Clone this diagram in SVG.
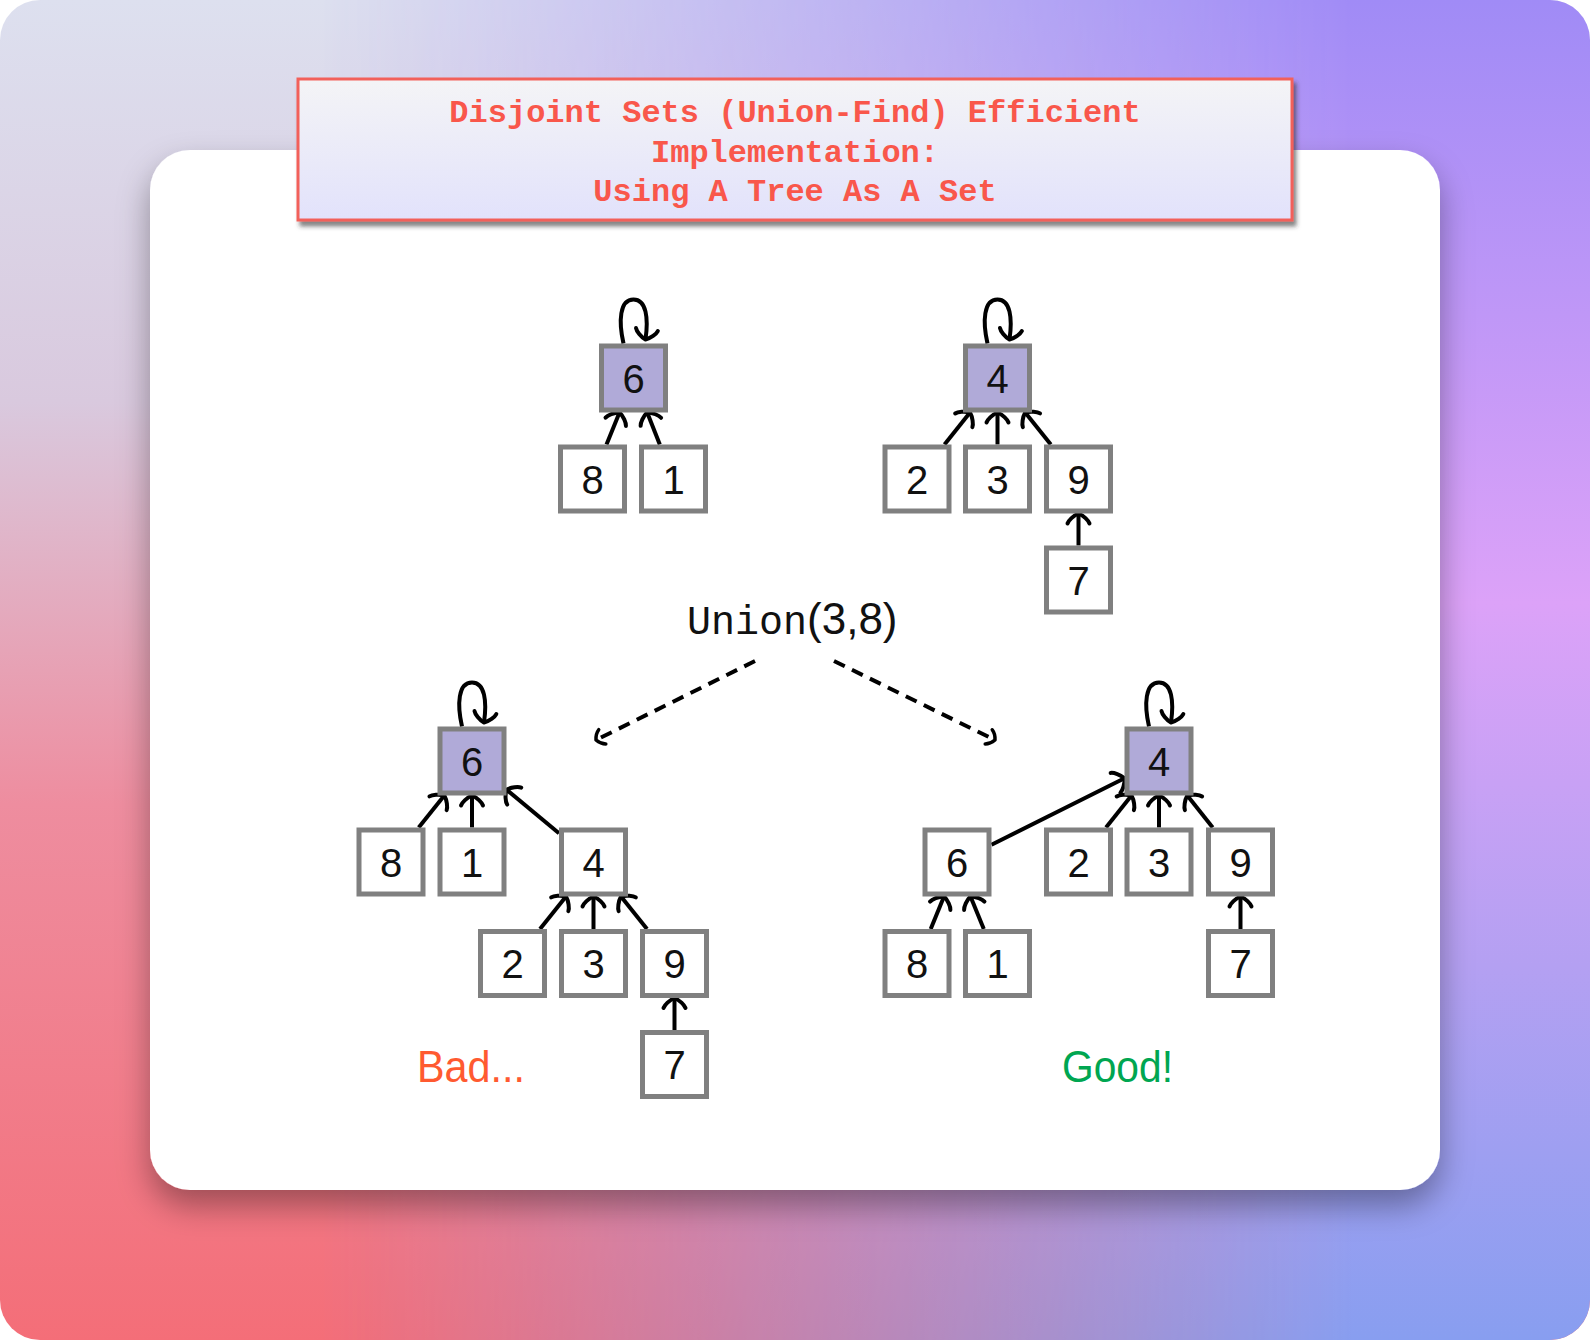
<svg xmlns="http://www.w3.org/2000/svg" width="1590" height="1340" viewBox="0 0 1590 1340">
<defs>
  <linearGradient id="bgV" x1="0" y1="0" x2="0" y2="1">
    <stop offset="0" stop-color="#dde0ef"/>
    <stop offset="0.3" stop-color="#d9c9de"/>
    <stop offset="0.6" stop-color="#ee8d9f"/>
    <stop offset="1" stop-color="#f46e78"/>
  </linearGradient>
  <linearGradient id="bgR" x1="0" y1="0" x2="0" y2="1">
    <stop offset="0" stop-color="#a08bf6"/>
    <stop offset="0.45" stop-color="#dca2f8"/>
    <stop offset="0.72" stop-color="#b4a0f2"/>
    <stop offset="1" stop-color="#889ef0"/>
  </linearGradient>
  <linearGradient id="mh" x1="0" y1="0" x2="1" y2="0">
    <stop offset="0.2" stop-color="#fff" stop-opacity="0"/>
    <stop offset="0.85" stop-color="#fff" stop-opacity="1"/>
  </linearGradient>
  <mask id="rmask" maskUnits="userSpaceOnUse" x="0" y="0" width="1590" height="1340">
    <rect width="1590" height="1340" fill="url(#mh)"/>
  </mask>
  <linearGradient id="titleFill" x1="0" y1="0" x2="0" y2="1">
    <stop offset="0" stop-color="#f4f4f6"/>
    <stop offset="1" stop-color="#e2e2fb"/>
  </linearGradient>
  <filter id="cardShadow" x="-10%" y="-10%" width="120%" height="125%">
    <feDropShadow dx="0" dy="16" stdDeviation="16" flood-color="#000" flood-opacity="0.35"/>
  </filter>
  <filter id="titleShadow" x="-5%" y="-10%" width="110%" height="130%">
    <feDropShadow dx="3" dy="5" stdDeviation="2" flood-color="#333" flood-opacity="0.6"/>
  </filter>
  <marker id="to" viewBox="-15 -15 30 30" refX="0" refY="0" markerWidth="30" markerHeight="30" markerUnits="userSpaceOnUse" orient="auto" overflow="visible">
    <path d="M-10,-11 C-7,-10 -2,-5 0,0 C-2,5 -7,10 -10,11" fill="none" stroke="#000" stroke-width="4" stroke-linecap="round" stroke-linejoin="round"/>
  </marker>
  <marker id="tos" viewBox="-15 -15 30 30" refX="0" refY="0" markerWidth="30" markerHeight="30" markerUnits="userSpaceOnUse" orient="auto" overflow="visible">
    <path d="M-7,-8 C-5,-7 -1.5,-3.5 0,0 C-1.5,3.5 -5,7 -7,8" fill="none" stroke="#000" stroke-width="3.5" stroke-linecap="round" stroke-linejoin="round"/>
  </marker>
  <style>
    .nd rect { fill: #ffffff; stroke: #808080; stroke-width: 5; }
    .nd.root rect { fill: #b0aad8; }
    .nd text { font-family: "Liberation Sans", "DejaVu Sans", sans-serif; font-size: 40px; fill: #111; text-anchor: middle; }
    .ed { stroke: #000; stroke-width: 4; fill: none; marker-end: url(#to); }
    .lp { stroke: #000; stroke-width: 4; fill: none; marker-end: url(#to); }
    .ds { stroke: #000; stroke-width: 4; fill: none; stroke-dasharray: 12 8; marker-end: url(#tos); }
    .title { font-family: "Liberation Mono", "DejaVu Sans Mono", monospace; font-weight: bold; font-size: 32px; fill: #f9574b; text-anchor: middle; }
  </style>
</defs>

<!-- background -->
<rect x="0" y="0" width="1590" height="1340" rx="40" fill="url(#bgV)"/>
<rect x="0" y="0" width="1590" height="1340" rx="40" fill="url(#bgR)" mask="url(#rmask)"/>

<!-- card -->
<rect x="150" y="150" width="1290" height="1040" rx="40" fill="#ffffff" filter="url(#cardShadow)"/>

<!-- title -->
<g id="title">
  <rect x="298" y="79" width="994" height="141" fill="url(#titleFill)" stroke="#f2605a" stroke-width="3" filter="url(#titleShadow)"/>
  <text class="title" x="795" y="122">Disjoint Sets (Union-Find) Efficient</text>
  <text class="title" x="795" y="162">Implementation:</text>
  <text class="title" x="795" y="201">Using A Tree As A Set</text>
</g>

<!-- connectors -->
<g id="connectors">
  <!-- top-left tree -->
  <line class="ed" x1="606.5" y1="444.5" x2="619.5" y2="412.5"/>
  <line class="ed" x1="659.8" y1="444.5" x2="647.2" y2="412.5"/>
  <path class="lp" d="M623.5,343.5 C618.5,321.5 619.5,299.5 633.5,299.5 C646.5,299.5 648.5,318.5 645.5,339.5"/>
  <!-- top-right tree -->
  <line class="ed" x1="944.5" y1="444.5" x2="970" y2="412.5"/>
  <line class="ed" x1="997.5" y1="444.5" x2="997.5" y2="412.5"/>
  <line class="ed" x1="1050.8" y1="444.5" x2="1025.2" y2="412.5"/>
  <line class="ed" x1="1078.5" y1="545.5" x2="1078.5" y2="513.5"/>
  <path class="lp" d="M987.5,343.5 C982.5,321.5 983.5,299.5 997.5,299.5 C1010.5,299.5 1012.5,318.5 1009.5,339.5"/>
  <!-- union dashed -->
  <line class="ds" x1="755" y1="661" x2="596" y2="740"/>
  <line class="ds" x1="834" y1="661" x2="995" y2="740"/>
  <!-- bottom-left tree -->
  <line class="ed" x1="418.7" y1="827.5" x2="444.3" y2="795.5"/>
  <line class="ed" x1="472" y1="827.5" x2="472" y2="795.5"/>
  <line class="ed" x1="559" y1="833.3" x2="506.5" y2="789.7"/>
  <line class="ed" x1="540" y1="929" x2="566" y2="896.5"/>
  <line class="ed" x1="593.5" y1="929" x2="593.5" y2="896.5"/>
  <line class="ed" x1="647" y1="929" x2="621" y2="896.5"/>
  <line class="ed" x1="674.5" y1="1030" x2="674.5" y2="998"/>
  <path class="lp" d="M462,726.5 C457,704.5 458,682.5 472,682.5 C485,682.5 487,701.5 484,722.5"/>
  <!-- bottom-right tree -->
  <line class="ed" x1="991.5" y1="844.8" x2="1124.5" y2="778.3"/>
  <line class="ed" x1="1106" y1="827.5" x2="1131.5" y2="795.5"/>
  <line class="ed" x1="1159" y1="827.5" x2="1159" y2="795.5"/>
  <line class="ed" x1="1212.7" y1="827.5" x2="1187.3" y2="795.5"/>
  <line class="ed" x1="930.7" y1="929" x2="944" y2="896.5"/>
  <line class="ed" x1="983.8" y1="929" x2="970.5" y2="896.5"/>
  <line class="ed" x1="1240.5" y1="929" x2="1240.5" y2="896.5"/>
  <path class="lp" d="M1149,726.5 C1144,704.5 1145,682.5 1159,682.5 C1172,682.5 1174,701.5 1171,722.5"/>
</g>

<!-- top-left tree nodes -->
<g id="tl-6" class="nd root"><rect x="601.5" y="346" width="64" height="64"/><text x="633.5" y="392.5">6</text></g>
<g id="tl-8" class="nd"><rect x="560.5" y="447" width="64" height="64"/><text x="592.5" y="493.5">8</text></g>
<g id="tl-1" class="nd"><rect x="641.5" y="447" width="64" height="64"/><text x="673.5" y="493.5">1</text></g>

<!-- top-right tree nodes -->
<g id="tr-4" class="nd root"><rect x="965.5" y="346" width="64" height="64"/><text x="997.5" y="392.5">4</text></g>
<g id="tr-2" class="nd"><rect x="885" y="447" width="64" height="64"/><text x="917" y="493.5">2</text></g>
<g id="tr-3" class="nd"><rect x="965.5" y="447" width="64" height="64"/><text x="997.5" y="493.5">3</text></g>
<g id="tr-9" class="nd"><rect x="1046.5" y="447" width="64" height="64"/><text x="1078.5" y="493.5">9</text></g>
<g id="tr-7" class="nd"><rect x="1046.5" y="548" width="64" height="64"/><text x="1078.5" y="594.5">7</text></g>

<!-- union label -->
<g id="union-label">
  <text x="687" y="634" font-size="40" fill="#111"><tspan font-family="'Liberation Mono', 'DejaVu Sans Mono', monospace">Union</tspan><tspan font-family="'Liberation Sans', 'DejaVu Sans', sans-serif" font-size="44">(3,8)</tspan></text>
</g>

<!-- bottom-left tree nodes -->
<g id="bl-6" class="nd root"><rect x="440" y="729" width="64" height="64"/><text x="472" y="775.5">6</text></g>
<g id="bl-8" class="nd"><rect x="359" y="830" width="64" height="64"/><text x="391" y="876.5">8</text></g>
<g id="bl-1" class="nd"><rect x="440" y="830" width="64" height="64"/><text x="472" y="876.5">1</text></g>
<g id="bl-4" class="nd"><rect x="561.5" y="830" width="64" height="64"/><text x="593.5" y="876.5">4</text></g>
<g id="bl-2" class="nd"><rect x="480.5" y="931.5" width="64" height="64"/><text x="512.5" y="978">2</text></g>
<g id="bl-3" class="nd"><rect x="561.5" y="931.5" width="64" height="64"/><text x="593.5" y="978">3</text></g>
<g id="bl-9" class="nd"><rect x="642.5" y="931.5" width="64" height="64"/><text x="674.5" y="978">9</text></g>
<g id="bl-7" class="nd"><rect x="642.5" y="1032.5" width="64" height="64"/><text x="674.5" y="1079">7</text></g>

<!-- bottom-right tree nodes -->
<g id="br-4" class="nd root"><rect x="1127" y="729" width="64" height="64"/><text x="1159" y="775.5">4</text></g>
<g id="br-6" class="nd"><rect x="925" y="830" width="64" height="64"/><text x="957" y="876.5">6</text></g>
<g id="br-2" class="nd"><rect x="1046.5" y="830" width="64" height="64"/><text x="1078.5" y="876.5">2</text></g>
<g id="br-3" class="nd"><rect x="1127" y="830" width="64" height="64"/><text x="1159" y="876.5">3</text></g>
<g id="br-9" class="nd"><rect x="1208.5" y="830" width="64" height="64"/><text x="1240.5" y="876.5">9</text></g>
<g id="br-8" class="nd"><rect x="885" y="931.5" width="64" height="64"/><text x="917" y="978">8</text></g>
<g id="br-1" class="nd"><rect x="965.5" y="931.5" width="64" height="64"/><text x="997.5" y="978">1</text></g>
<g id="br-7" class="nd"><rect x="1208.5" y="931.5" width="64" height="64"/><text x="1240.5" y="978">7</text></g>

<!-- verdict labels -->
<g id="bad-label"><text x="417" y="1082" font-family="'Liberation Sans', 'DejaVu Sans', sans-serif" font-size="44" fill="#ff5a30" textLength="108" lengthAdjust="spacingAndGlyphs">Bad...</text></g>
<g id="good-label"><text x="1062" y="1082" font-family="'Liberation Sans', 'DejaVu Sans', sans-serif" font-size="44" fill="#00a651" textLength="111" lengthAdjust="spacingAndGlyphs">Good!</text></g>
</svg>
